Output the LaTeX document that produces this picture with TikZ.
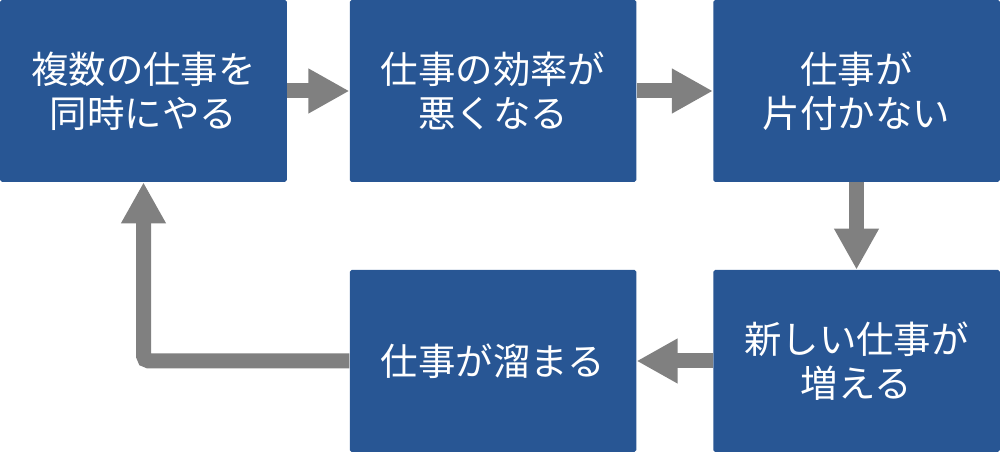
\documentclass[tikz,border=0pt]{standalone}
\usepackage{fontspec}
\setmainfont{Noto Sans CJK JP}
\usepackage{xcolor}
\definecolor{boxblue}{RGB}{40,86,148}
\definecolor{arrgray}{RGB}{128,128,128}
\usepackage{tikz}
\usetikzlibrary{arrows.meta,positioning,calc}

\begin{document}
\begin{tikzpicture}[procbox/.style={fill=boxblue, text=white, rounded corners=1pt,
                            minimum width=5.73cm, minimum height=3.64cm,
                            align=center, inner sep=0pt,
                            font=\fontsize{21.3}{25}\selectfont},
                    flowarrow/.style={draw=arrgray, line width=0.3cm,
                            -{Triangle[width=0.84cm,length=0.82cm]}}]
            \useasboundingbox (0,0) rectangle (20,9.04);
            \node[procbox] (multi) at (2.87,7.22) {複数の仕事を\\同時にやる};
            \node[procbox] (slow) at (9.86,7.22) {仕事の効率が\\悪くなる};
            \node[procbox] (undone) at (17.13,7.22) {仕事が\\片付かない};
            \node[procbox] (newwork) at (17.13,1.82) {新しい仕事が\\増える};
            \node[procbox] (pile) at (9.86,1.82) {仕事が溜まる};
            \draw[flowarrow] (multi) -- (slow);
            \draw[flowarrow] (slow) -- (undone);
            \draw[flowarrow] (undone) -- (newwork);
            \draw[flowarrow] (newwork) -- (pile);
            \draw[flowarrow, rounded corners=3pt] (pile.west) -| (multi.south);
        \end{tikzpicture}
\end{document}
